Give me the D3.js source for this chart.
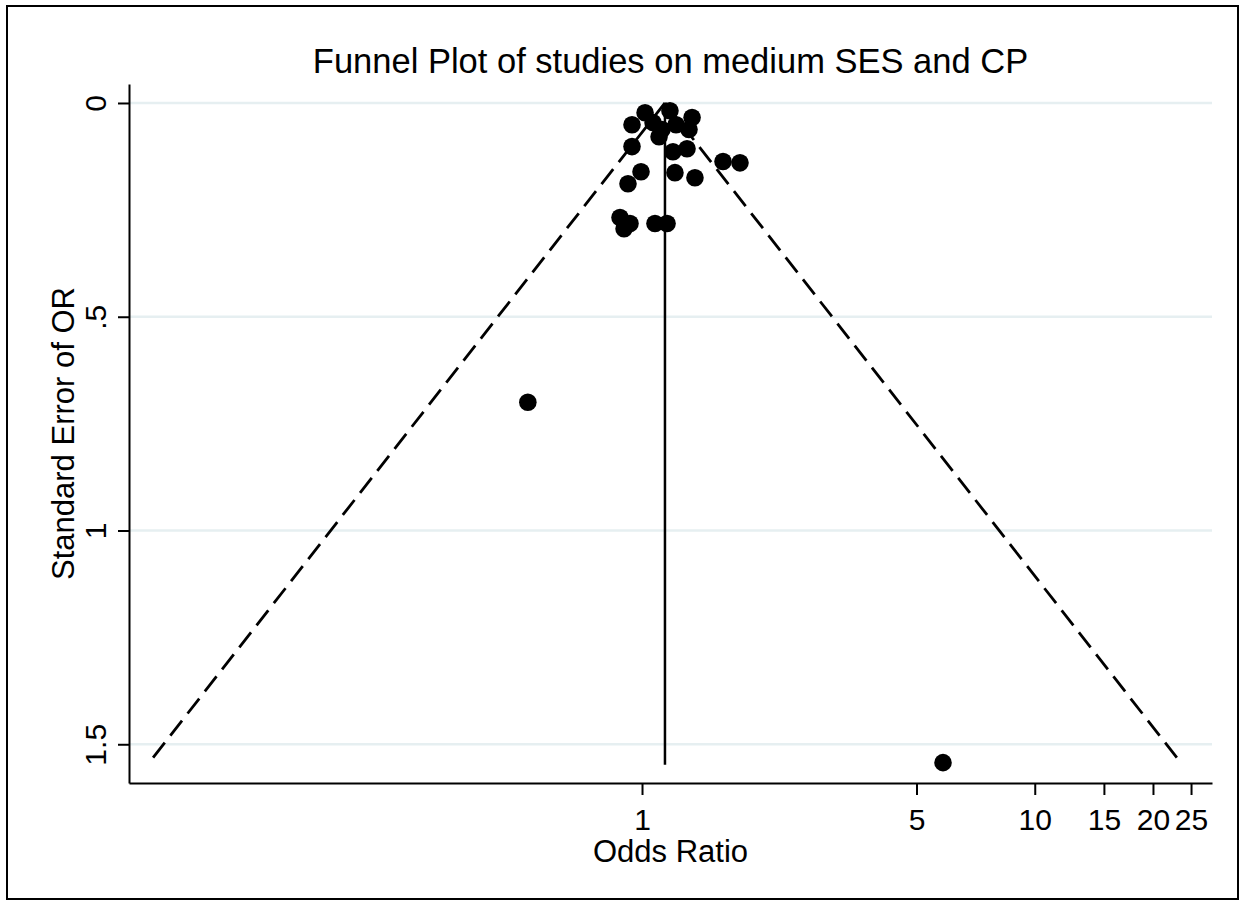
<!DOCTYPE html>
<html>
<head>
<meta charset="utf-8">
<script src="https://cdn.jsdelivr.net/npm/d3@7"></script>
<style>
  body { margin: 0; background: #fff; }
  text { font-family: "Liberation Sans", Arial, sans-serif; fill: #000; }
</style>
</head>
<body>
<div id="container"></div>
<script>
// study odds ratios and their standard errors
const oddsRatio = [1.018, 1.178, 1.341, 0.943, 1.067, 1.124, 1.221, 1.317, 1.105, 0.943,
                   1.199, 1.302, 1.608, 1.776, 0.994, 0.921, 1.213, 1.364, 0.879, 0.900,
                   0.932, 1.079, 1.158, 0.512, 5.84]
const stdErr = [0.023, 0.018, 0.034, 0.051, 0.046, 0.062, 0.051, 0.062, 0.079, 0.102,
                0.114, 0.107, 0.137, 0.140, 0.161, 0.189, 0.163, 0.175, 0.268, 0.294,
                0.282, 0.282, 0.282, 0.700, 1.543]
const pooledOR = 1.144
const funnelSE = [0, 1.543]
const xTicks = [1, 5, 10, 15, 20, 25]
const yTicks = [0, 0.5, 1, 1.5]
const yTickLabels = ["0", ".5", "1", "1.5"]

const width = 1245, height = 906
const plotL = 129, plotR = 1212, plotT = 84, plotB = 783

const svg = d3.select("#container").append("svg")
  .attr("width", width).attr("height", height)

svg.append("rect")
  .attr("x", 7).attr("y", 6).attr("width", 1231).attr("height", 893)
  .attr("fill", "#fff").attr("stroke", "#000").attr("stroke-width", 2)

const x = d3.scaleLog().domain([0.0494, 28.27]).range([plotL, plotR])
const y = d3.scaleLinear().domain([-0.0444, 1.5906]).range([plotT, plotB])

// grid
svg.append("g").selectAll("line").data(yTicks).enter().append("line")
  .attr("x1", plotL).attr("x2", plotR)
  .attr("y1", d => y(d)).attr("y2", d => y(d))
  .attr("stroke", "#e6eff1").attr("stroke-width", 2.5)

// axes
const xAxis = svg.append("g").attr("transform", `translate(0,${plotB})`)
  .call(d3.axisBottom(x).tickValues(xTicks).tickFormat(d3.format("d")).tickSize(12).tickPadding(14).tickSizeOuter(0))
xAxis.select(".domain").attr("stroke-width", 2)
xAxis.selectAll(".tick line").attr("stroke-width", 2)
xAxis.selectAll("text").attr("font-size", 30).attr("fill", "#000")
  .style("font-family", '"Liberation Sans", Arial, sans-serif')

const yAxis = svg.append("g").attr("transform", `translate(${plotL},0)`)
  .call(d3.axisLeft(y).tickValues(yTicks).tickFormat((d, i) => yTickLabels[i]).tickSize(11).tickSizeOuter(0))
yAxis.select(".domain").attr("stroke-width", 2)
yAxis.selectAll(".tick line").attr("stroke-width", 2)
yAxis.selectAll("text")
  .attr("font-size", 30).attr("fill", "#000")
  .style("font-family", '"Liberation Sans", Arial, sans-serif')
  .attr("transform", "rotate(-90)")
  .attr("x", 0).attr("y", -23).attr("dy", 0)
  .attr("text-anchor", "middle")

// funnel
const ln = Math.log(pooledOR)
const seMax = funnelSE[1]
svg.append("line")
  .attr("x1", x(pooledOR)).attr("x2", x(pooledOR))
  .attr("y1", y(funnelSE[0])).attr("y2", y(seMax) + 2)
  .attr("stroke", "#000").attr("stroke-width", 2.5)

const limits = [Math.exp(ln - 1.96 * seMax), Math.exp(ln + 1.96 * seMax)]
svg.append("g").selectAll("line").data(limits).enter().append("line")
  .attr("x1", x(pooledOR)).attr("y1", y(funnelSE[0]))
  .attr("x2", d => x(d)).attr("y2", y(seMax))
  .attr("stroke", "#000").attr("stroke-width", 2.8)
  .attr("stroke-dasharray", "19,9")

// studies
svg.append("g").selectAll("circle").data(oddsRatio).enter().append("circle")
  .attr("cx", d => x(d)).attr("cy", (d, i) => y(stdErr[i]))
  .attr("r", 8.8).attr("fill", "#000")

// labels
svg.append("text").attr("x", (plotL + plotR) / 2).attr("y", 73)
  .attr("text-anchor", "middle").attr("font-size", 34.5)
  .text("Funnel Plot of studies on medium SES and CP")

svg.append("text").attr("x", (plotL + plotR) / 2).attr("y", 862)
  .attr("text-anchor", "middle").attr("font-size", 31)
  .text("Odds Ratio")

svg.append("text")
  .attr("transform", `translate(74,${(plotT + plotB) / 2}) rotate(-90)`)
  .attr("text-anchor", "middle").attr("font-size", 31)
  .text("Standard Error of OR")
</script>
</body>
</html>
